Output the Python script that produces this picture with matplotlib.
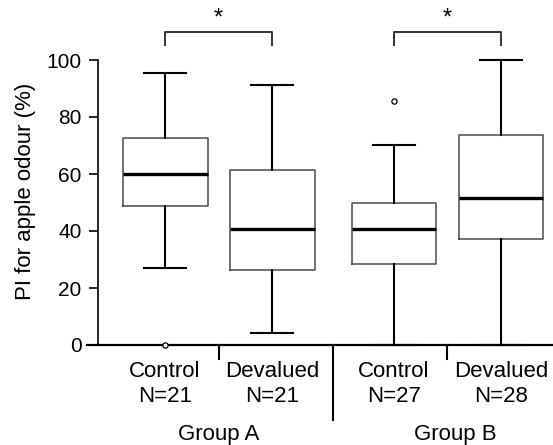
import matplotlib
matplotlib.use('Agg')
import matplotlib.pyplot as plt

# ---- data ----
conditions = ['Control', 'Devalued', 'Control', 'Devalued']
sample_sizes = ['N=21', 'N=21', 'N=27', 'N=28']
groups = ['Group A', 'Group B']
medians = [59.9, 40.8, 40.8, 51.5]
q1 = [48.8, 26.3, 28.4, 37.2]
q3 = [72.6, 61.5, 49.9, 73.7]
whisker_low = [27.0, 4.2, 0.0, 0.0]
whisker_high = [95.4, 91.3, 70.2, 100.0]
outliers = [[0.0], [], [85.7], []]
yticks = [0, 20, 40, 60, 80, 100]
ylabel = 'PI for apple odour (%)'
sig_pairs = [(0, 1), (2, 3)]
sig_labels = ['*', '*']

plt.rcParams['font.family'] = ['Liberation Sans', 'DejaVu Sans']

positions = [1.0, 2.0, 3.14, 4.14]

fig = plt.figure(figsize=(5.53, 4.45), dpi=100)
ax = fig.add_axes([86.7 / 553, 1 - 345 / 445, 1 - 86.7 / 553, 285 / 445])

stats = []
for i in range(len(conditions)):
    stats.append(dict(med=medians[i], q1=q1[i], q3=q3[i],
                      whislo=whisker_low[i], whishi=whisker_high[i],
                      fliers=outliers[i], label=conditions[i]))

art = ax.bxp(stats, positions=positions, widths=0.794, capwidths=0.40,
             showfliers=True, patch_artist=False,
             boxprops=dict(color='#4a4a4a', linewidth=1.1),
             medianprops=dict(color='black', linewidth=2.4),
             whiskerprops=dict(color='black', linewidth=1.5),
             capprops=dict(color='black', linewidth=1.5),
             flierprops=dict(marker='o', markersize=3.8, markerfacecolor='white',
                             markeredgecolor='black', markeredgewidth=0.9))
for key, items in art.items():
    for a in items:
        a.set_clip_on(False)
for f in art['fliers']:
    f.set_zorder(6)

ax.spines['top'].set_visible(False)
ax.spines['right'].set_visible(False)
ax.spines['left'].set_position(('data', 0.377))
ax.spines['left'].set_linewidth(1.2)
ax.spines['bottom'].set_linewidth(1.6)

ax.set_xlim(0.268, 4.626)
ax.set_ylim(0, 100)
ax.set_xticks([])
ax.set_yticks(yticks)
ax.set_yticklabels([str(t) for t in yticks])
ax.tick_params(axis='y', direction='out', length=6.5, width=1.2, pad=5.5, labelsize=15)

# separators below axis
mids = [(positions[i] + positions[i + 1]) / 2 for i in range(3)]
for k, m in enumerate(mids):
    bottom = -26.3 if k == 1 else -5.0
    ax.plot([m, m], [0, bottom], color='black', lw=1.5, clip_on=False)

# category labels
fs = 16
for i in range(len(conditions)):
    ax.text(positions[i], -11.2, conditions[i], ha='center', va='baseline', fontsize=fs)
    ax.text(positions[i], -20.0, sample_sizes[i], ha='center', va='baseline', fontsize=fs)
for g in range(len(groups)):
    gx = (positions[2 * g] + positions[2 * g + 1]) / 2 + (0.07 if g == 1 else 0.0)
    ax.text(gx, -33.3, groups[g], ha='center', va='baseline', fontsize=fs)

# significance brackets
for (i, j), lab in zip(sig_pairs, sig_labels):
    xi, xj = positions[i], positions[j]
    ax.plot([xi, xi, xj, xj], [105.3, 109.9, 109.9, 105.3], color='#333333', lw=1.4, clip_on=False)
    ax.text((xi + xj) / 2, 114.5, lab, ha='center', va='center', fontsize=17)

fig.text(26 / 553, 1 - 191.5 / 445, ylabel, rotation=90, ha='center', va='center', fontsize=16)

fig.savefig('out.png', dpi=100)
